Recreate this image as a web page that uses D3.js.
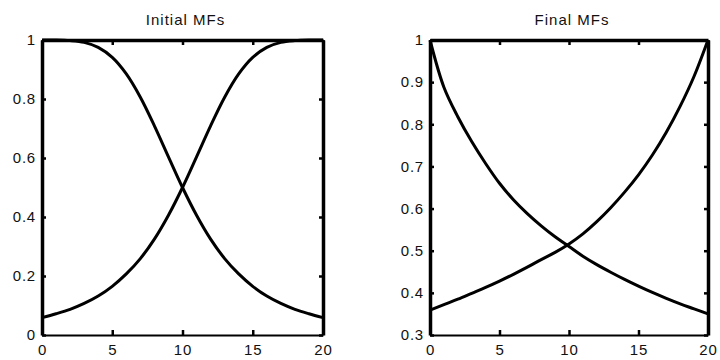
<!DOCTYPE html>
<html>
<head>
<meta charset="utf-8">
<script src="https://cdn.jsdelivr.net/npm/d3@7"></script>
<style>
  html, body { margin: 0; padding: 0; background: #fff; }
  svg { display: block; font-family: "Liberation Sans", Arial, sans-serif; }
  .tick text { fill: #111; }
</style>
</head>
<body>
<div id="chart"></div>
<script>
// values
const xValues = [0, 1, 2, 3, 4, 5, 6, 7, 8, 9, 10, 11, 12, 13, 14, 15, 16, 17, 18, 19, 20];

const initialLow = [1, 1, 0.998, 0.992, 0.975, 0.941, 0.885, 0.806, 0.709, 0.604, 0.5,
  0.406, 0.325, 0.259, 0.207, 0.165, 0.132, 0.107, 0.087, 0.072, 0.059];
const initialHigh = [0.059, 0.072, 0.087, 0.107, 0.132, 0.165, 0.207, 0.259, 0.325, 0.406, 0.5,
  0.604, 0.709, 0.806, 0.885, 0.941, 0.975, 0.992, 0.998, 1, 1];

const finalLow = [1, 0.888, 0.818, 0.759, 0.707, 0.66, 0.621, 0.588, 0.559, 0.533, 0.51,
  0.487, 0.467, 0.449, 0.432, 0.416, 0.401, 0.387, 0.374, 0.362, 0.35];
const finalHigh = [0.359, 0.372, 0.385, 0.399, 0.413, 0.428, 0.444, 0.461, 0.479, 0.496, 0.516,
  0.54, 0.569, 0.602, 0.639, 0.68, 0.727, 0.781, 0.843, 0.914, 1];

const xTicks = [0, 5, 10, 15, 20];
const initialYTicks = [0, 0.2, 0.4, 0.6, 0.8, 1];
const finalYTicks = [0.3, 0.4, 0.5, 0.6, 0.7, 0.8, 0.9, 1];

const titles = ["Initial MFs", "Final MFs"];

const width = 720;
const height = 360;
const plotTop = 40;
const plotBottom = 335;

const panels = [
  { title: titles[0], x0: 42, x1: 323, yDomain: [0, 1], yTicks: initialYTicks, series: [initialLow, initialHigh] },
  { title: titles[1], x0: 430, x1: 708, yDomain: [0.3, 1], yTicks: finalYTicks, series: [finalLow, finalHigh] },
];

const svg = d3.select("#chart").append("svg")
  .attr("width", width)
  .attr("height", height);

panels.forEach((p) => {
  const x = d3.scaleLinear().domain([0, 20]).range([p.x0, p.x1]);
  const y = d3.scaleLinear().domain(p.yDomain).range([plotBottom, plotTop]);
  const g = svg.append("g");
  const fmt = (d) => String(d);

  const line = d3.line()
    .x((d, i) => x(xValues[i]))
    .y((d) => y(d))
    .curve(d3.curveCatmullRom.alpha(0.5));

  g.selectAll("path.mf")
    .data(p.series)
    .join("path")
    .attr("class", "mf")
    .attr("d", line)
    .attr("fill", "none")
    .attr("stroke", "#000")
    .attr("stroke-width", 3);

  // bottom axis with labels
  const xb = g.append("g")
    .attr("transform", `translate(0,${plotBottom})`)
    .call(d3.axisBottom(x).tickValues(xTicks).tickFormat(fmt).tickSizeInner(-5).tickSizeOuter(0).tickPadding(9));
  xb.select(".domain").attr("stroke-width", 2);

  // top axis, ticks only
  const xt = g.append("g")
    .attr("transform", `translate(0,${plotTop})`)
    .call(d3.axisTop(x).tickValues(xTicks).tickFormat("").tickSizeInner(-5).tickSizeOuter(0));
  xt.select(".domain").attr("stroke-width", 3.5);

  const yl = g.append("g")
    .attr("transform", `translate(${p.x0},0)`)
    .call(d3.axisLeft(y).tickValues(p.yTicks).tickFormat(fmt).tickSizeInner(-4).tickSizeOuter(0).tickPadding(6));
  yl.select(".domain").attr("stroke-width", 3.5);

  const yr = g.append("g")
    .attr("transform", `translate(${p.x1},0)`)
    .call(d3.axisRight(y).tickValues(p.yTicks).tickFormat("").tickSizeInner(-4).tickSizeOuter(0));
  yr.select(".domain").attr("stroke-width", 3.5);

  g.selectAll(".tick line").attr("stroke", "#000").attr("stroke-width", 2.5);
  g.selectAll(".domain").attr("stroke", "#000");
  g.selectAll(".tick text")
    .style("font-size", "15px")
    .style("letter-spacing", "0.8px");

  g.append("text")
    .attr("x", (p.x0 + p.x1) / 2 + 3)
    .attr("y", 25)
    .attr("text-anchor", "middle")
    .style("font-size", "15px")
    .style("letter-spacing", "1px")
    .attr("fill", "#111")
    .text(p.title);
});
</script>
</body>
</html>
